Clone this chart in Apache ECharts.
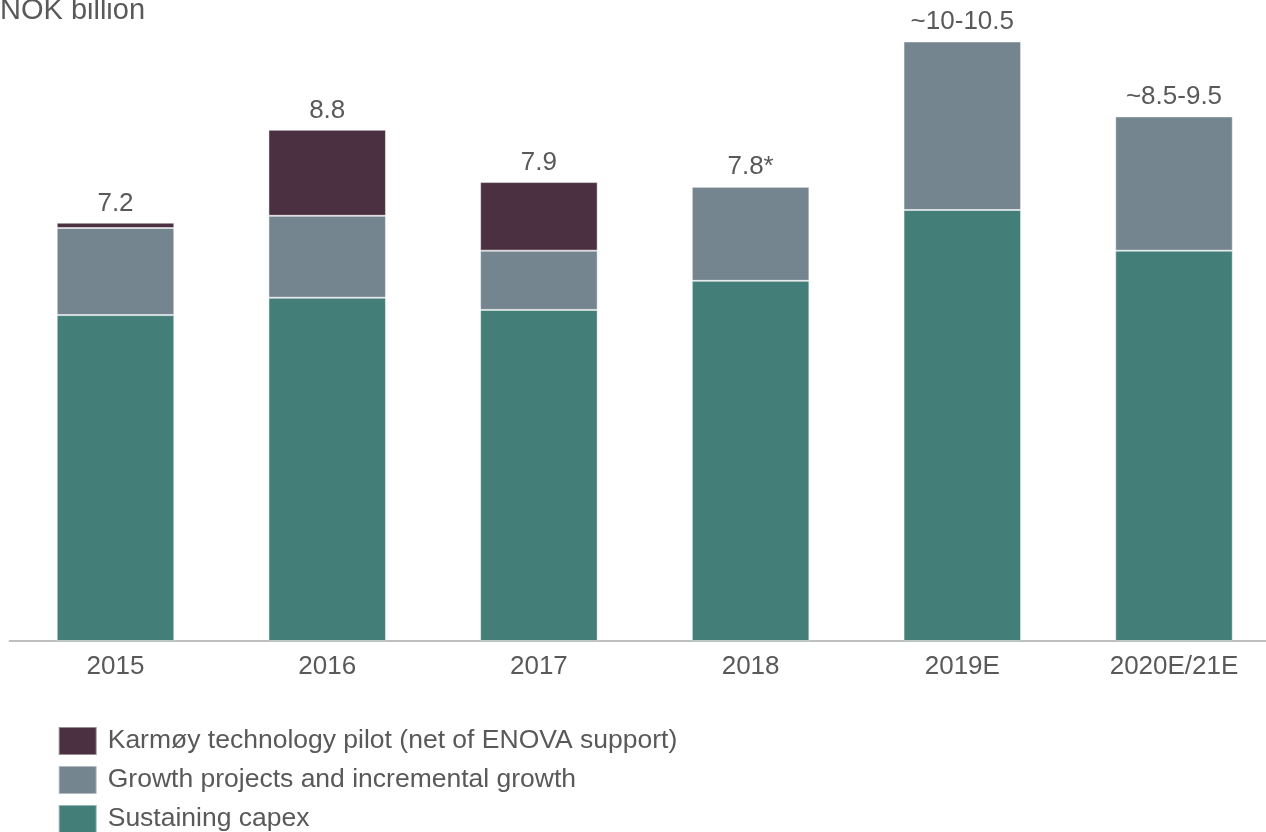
<!DOCTYPE html>
<html>
<head>
<meta charset="utf-8">
<script src="https://cdn.jsdelivr.net/npm/echarts@6/dist/echarts.min.js"></script>
<style>
html,body{margin:0;padding:0;background:#fff;}
#chart{width:1266px;height:832px;}
</style>
</head>
<body>
<div id="chart"></div>
<script>
const categories = ['2015', '2016', '2017', '2018', '2019E', '2020E/21E'];
const sustaining = [5.61, 5.91, 5.70, 6.20, 7.42, 6.72];
const growth = [1.50, 1.41, 1.02, 1.62, 2.90, 2.31];
const karmoy = [0.09, 1.48, 1.18, 0, 0, 0];
const totalLabels = ['7.2', '8.8', '7.9', '7.8*', '~10-10.5', '~8.5-9.5'];
const seriesNames = ['Karmøy technology pilot (net of ENOVA support)', 'Growth projects and incremental growth', 'Sustaining capex'];

const FONT = '"Liberation Sans", Arial, sans-serif';
const TXT = '#595959';
const FS = 26;
const chart = echarts.init(document.getElementById('chart'));
const border = {borderColor: 'rgba(255,255,255,0.45)', borderWidth: 1};
const legendTops = [726, 765, 804];
chart.setOption({
  animation: false,
  textStyle: {fontFamily: FONT},
  grid: {left: 9.65, width: 1270.2, top: 2, height: 639, containLabel: false, outerBoundsMode: 'none'},
  xAxis: {
    type: 'category', data: categories,
    axisLine: {lineStyle: {color: '#bfbfbf', width: 2}},
    axisTick: {show: false},
    axisLabel: {color: TXT, fontSize: FS, fontFamily: FONT, margin: 13}
  },
  yAxis: {type: 'value', min: 0, max: 11, show: false, splitLine: {show: false}},
  legend: seriesNames.map((n, i) => ({
    orient: 'vertical', left: 57.7, top: legendTops[i], padding: 0,
    itemWidth: 38, itemHeight: 28, icon: 'rect',
    data: [n],
    textStyle: {color: TXT, fontSize: 26.5, fontFamily: FONT, padding: [0, 0, 0, 6]}
  })),
  graphic: [{
    type: 'text', left: 0, top: -4,
    style: {text: 'NOK billion', fill: TXT, font: '29px ' + FONT}
  }],
  series: [
    {name: seriesNames[2], type: 'bar', stack: 'a', data: sustaining, barWidth: '55.5%',
     itemStyle: Object.assign({color: '#437f78'}, border)},
    {name: seriesNames[1], type: 'bar', stack: 'a', data: growth,
     itemStyle: Object.assign({color: '#74858f'}, border)},
    {name: seriesNames[0], type: 'bar', stack: 'a', data: karmoy,
     itemStyle: Object.assign({color: '#4a3041'}, border),
     label: {show: true, position: 'top', distance: 6, color: TXT, fontSize: FS, fontFamily: FONT,
             formatter: p => totalLabels[p.dataIndex]}}
  ]
});
</script>
</body>
</html>
